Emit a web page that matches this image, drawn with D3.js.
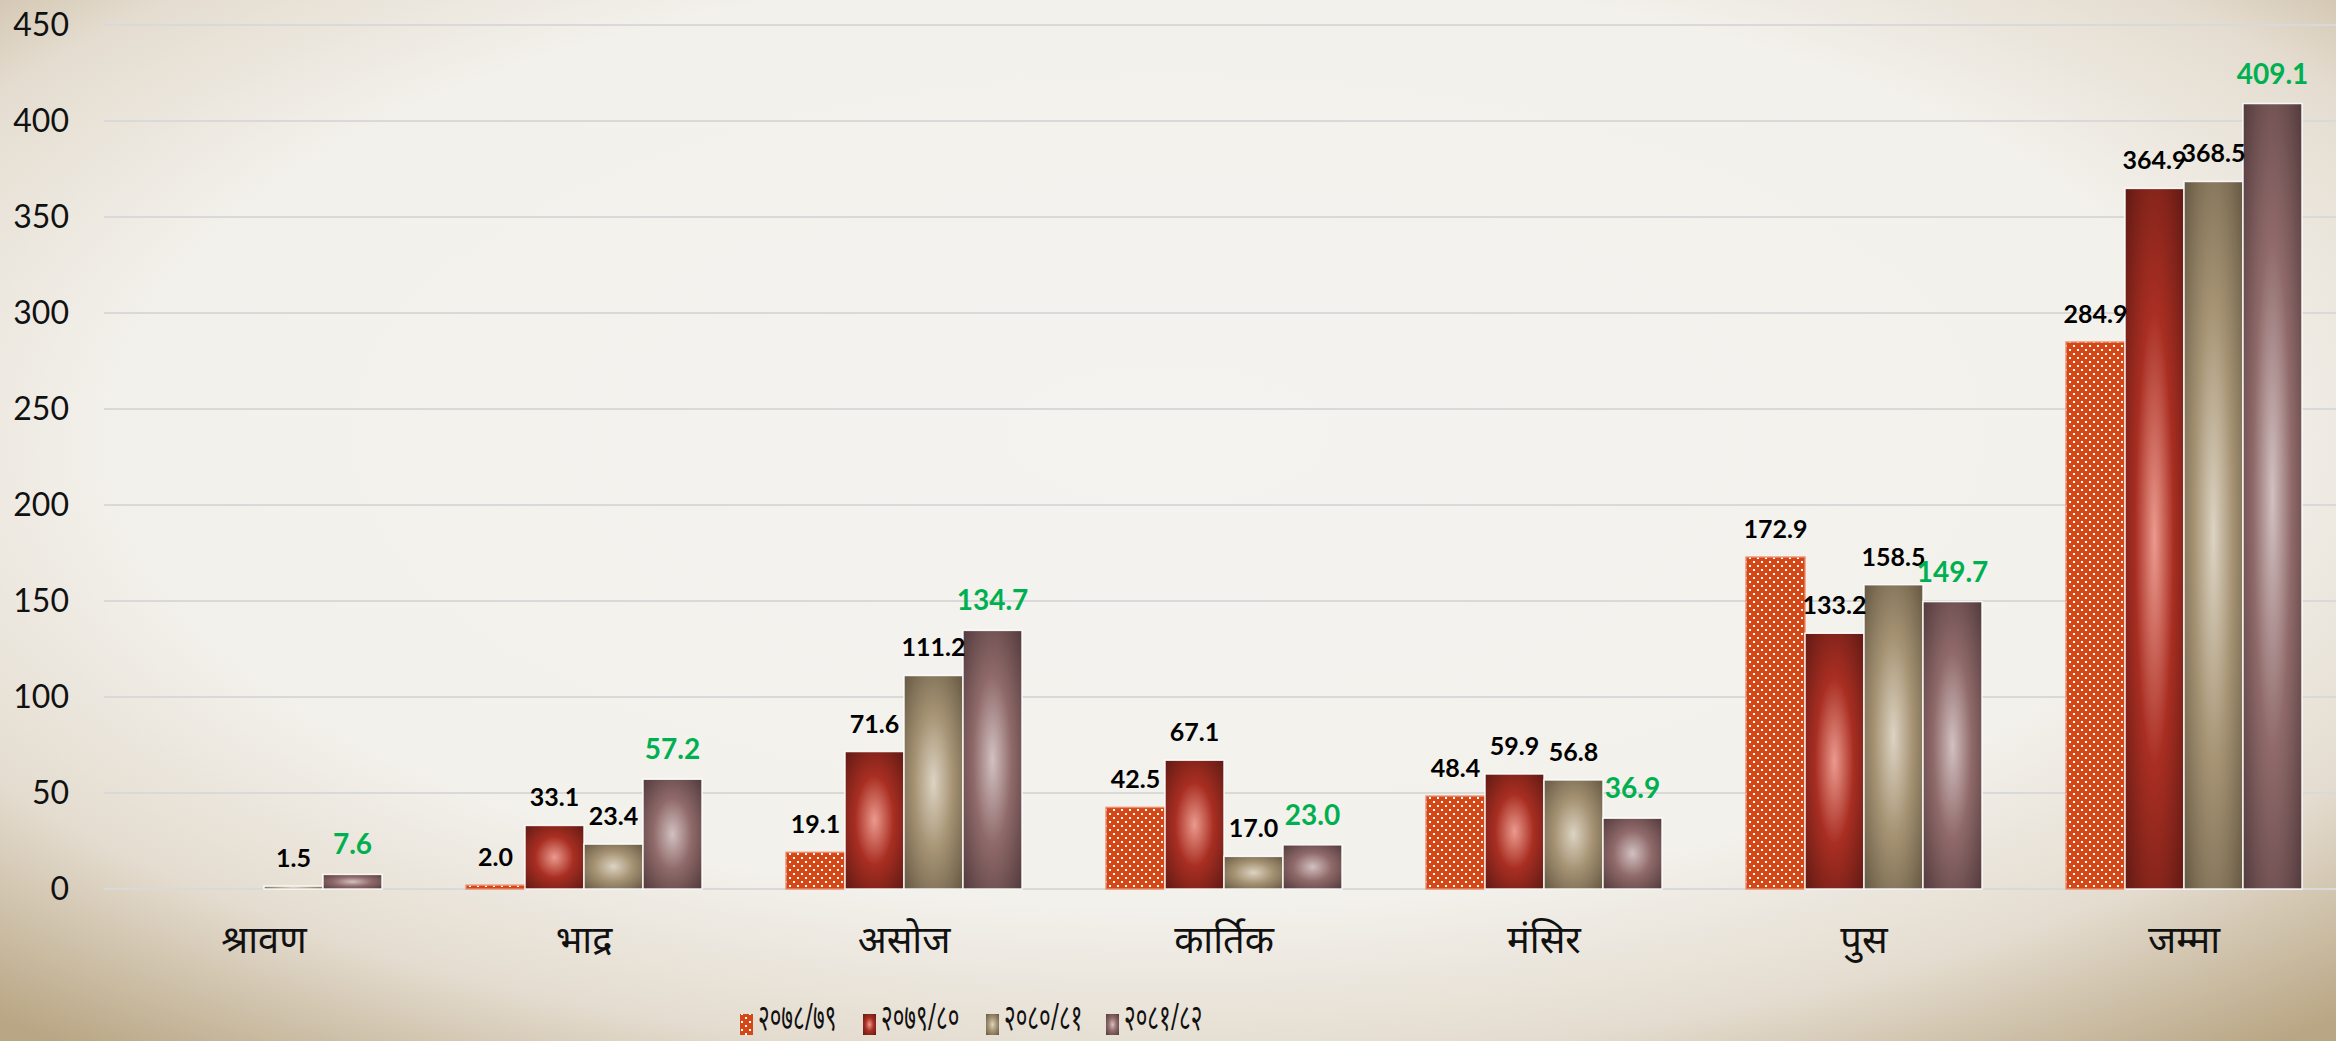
<!DOCTYPE html>
<html>
<head>
<meta charset="utf-8">
<script src="https://cdn.jsdelivr.net/npm/d3@7"></script>
<style>
  html, body { margin: 0; padding: 0; overflow: hidden; }
  svg { display: block; }
</style>
</head>
<body>
<div id="chart"></div>
<script>
// categories (months + total)
const months = ["श्रावण", "भाद्र", "असोज", "कार्तिक", "मंसिर", "पुस", "जम्मा"];
// fiscal years
const years = ["२०७८/७९", "२०७९/८०", "२०८०/८१", "२०८१/८२"];
// values per fiscal year, one per month (null = no bar)
const fy7879 = [null, 2.0, 19.1, 42.5, 48.4, 172.9, 284.9];
const fy7980 = [null, 33.1, 71.6, 67.1, 59.9, 133.2, 364.9];
const fy8081 = [1.5, 23.4, 111.2, 17.0, 56.8, 158.5, 368.5];
const fy8182 = [7.6, 57.2, 134.7, 23.0, 36.9, 149.7, 409.1];
const yTicks = [0, 50, 100, 150, 200, 250, 300, 350, 400, 450];

const series = [fy7879, fy7980, fy8081, fy8182];

const width = 2336;
const height = 1041;

const svg = d3.select("#chart").append("svg")
  .attr("width", width)
  .attr("height", height);

const defs = svg.append("defs");

// background vignette
const bg = defs.append("radialGradient")
  .attr("id", "bg")
  .attr("cx", 0.5).attr("cy", 0.42).attr("r", 0.75);
[[0, "#f4f3ef"], [0.6, "#f3f1ec"], [0.8, "#e4dccf"], [1, "#b9a684"]].forEach(s => {
  bg.append("stop").attr("offset", s[0]).attr("stop-color", s[1]);
});

svg.append("rect")
  .attr("width", width).attr("height", height)
  .attr("fill", "url(#bg)");

// dotted pattern for first series
const pat = defs.append("pattern")
  .attr("id", "dots")
  .attr("patternUnits", "userSpaceOnUse")
  .attr("width", 8).attr("height", 8);
pat.append("rect").attr("width", 8).attr("height", 8).attr("fill", "#d44817");
pat.append("rect").attr("x", 1).attr("y", 1).attr("width", 2).attr("height", 2).attr("fill", "#fff");
pat.append("rect").attr("x", 5).attr("y", 5).attr("width", 2).attr("height", 2).attr("fill", "#fff");

// radial "lit" gradients for the other series
const grads = [
  null,
  ["#eb9a8e", "#a92e22", "#5c1913"],
  ["#dcd3c2", "#a69374", "#625640"],
  ["#d2c0c0", "#906a6a", "#4f383a"]
];
grads.forEach((g, i) => {
  if (!g) return;
  const rg = defs.append("radialGradient")
    .attr("id", "g" + i)
    .attr("cx", 0.5).attr("cy", 0.5).attr("r", 0.72);
  rg.append("stop").attr("offset", 0).attr("stop-color", g[0]);
  rg.append("stop").attr("offset", 0.45).attr("stop-color", g[1]);
  rg.append("stop").attr("offset", 1).attr("stop-color", g[2]);
});
const fills = ["url(#dots)", "url(#g1)", "url(#g2)", "url(#g3)"];

// scales
const x = d3.scaleBand()
  .domain(months)
  .range([104, 2344])
  .paddingInner(0).paddingOuter(0);

const groupW = 236;
const x1 = d3.scaleBand()
  .domain(d3.range(series.length))
  .range([0, groupW])
  .padding(0);

const y = d3.scaleLinear()
  .domain([0, 450])
  .range([889, 25]);

// gridlines
svg.append("g")
  .selectAll("line")
  .data(yTicks)
  .join("line")
  .attr("x1", 104).attr("x2", width)
  .attr("y1", d => y(d)).attr("y2", d => y(d))
  .attr("stroke", "#d9d9d9")
  .attr("stroke-width", 2);

// y axis labels
const yAxis = d3.axisLeft(y).tickValues(yTicks).tickSize(0).tickPadding(0);
const yg = svg.append("g")
  .attr("transform", "translate(69,0)")
  .call(yAxis);
yg.select(".domain").remove();
yg.selectAll("text")
  .attr("font-family", "Lato, 'Open Sans', sans-serif")
  .attr("font-size", 32)
  .attr("fill", "#111");

// x axis labels
const xAxis = d3.axisBottom(x).tickSize(0).tickPadding(0);
const xg = svg.append("g")
  .attr("transform", "translate(0,926)")
  .call(xAxis);
xg.select(".domain").remove();
xg.selectAll("text")
  .attr("font-family", "'Noto Sans', 'Noto Sans Devanagari', Lato, sans-serif")
  .attr("font-size", 38)
  .attr("fill", "#111");

// bars
const flat = [];
months.forEach((m, mi) => {
  series.forEach((s, si) => {
    if (s[mi] != null) flat.push({ month: m, si: si, value: s[mi] });
  });
});

const off = (x.bandwidth() - groupW) / 2;

svg.append("g")
  .selectAll("rect")
  .data(flat)
  .join("rect")
  .attr("x", d => x(d.month) + off + x1(d.si))
  .attr("y", d => y(d.value))
  .attr("width", x1.bandwidth())
  .attr("height", d => y(0) - y(d.value))
  .attr("fill", d => fills[d.si])
  .attr("stroke", d => d.si === 0 ? "#ec8d6c" : "#ffffff")
  .attr("stroke-width", 1.5)
  .attr("stroke-opacity", 0.9);

// data labels
svg.append("g")
  .selectAll("text")
  .data(flat)
  .join("text")
  .attr("x", d => x(d.month) + off + x1(d.si) + x1.bandwidth() / 2)
  .attr("y", d => y(d.value) - (d.si === 3 ? 20 : 19))
  .attr("text-anchor", "middle")
  .attr("font-family", "Lato, 'Open Sans', sans-serif")
  .attr("font-weight", 700)
  .attr("font-size", d => d.si === 3 ? 28 : 25)
  .attr("fill", d => d.si === 3 ? "#00b050" : "#000")
  .text(d => d.value.toFixed(1));

// legend
const legendX = [740, 863, 986, 1106];
const lg = svg.append("g");
years.forEach((yr, i) => {
  lg.append("rect")
    .attr("x", legendX[i]).attr("y", 1014)
    .attr("width", 13).attr("height", 21)
    .attr("fill", fills[i]);
  // the reference legend font is tall and narrow, so squeeze it
  lg.append("g")
    .attr("transform", `translate(${legendX[i] + 18},1030) scale(0.66,1.1)`)
    .append("text")
    .attr("font-family", "'Noto Sans', 'Noto Sans Devanagari', Lato, sans-serif")
    .attr("font-size", 34)
    .attr("fill", "#111")
    .text(yr);
});
</script>
</body>
</html>
